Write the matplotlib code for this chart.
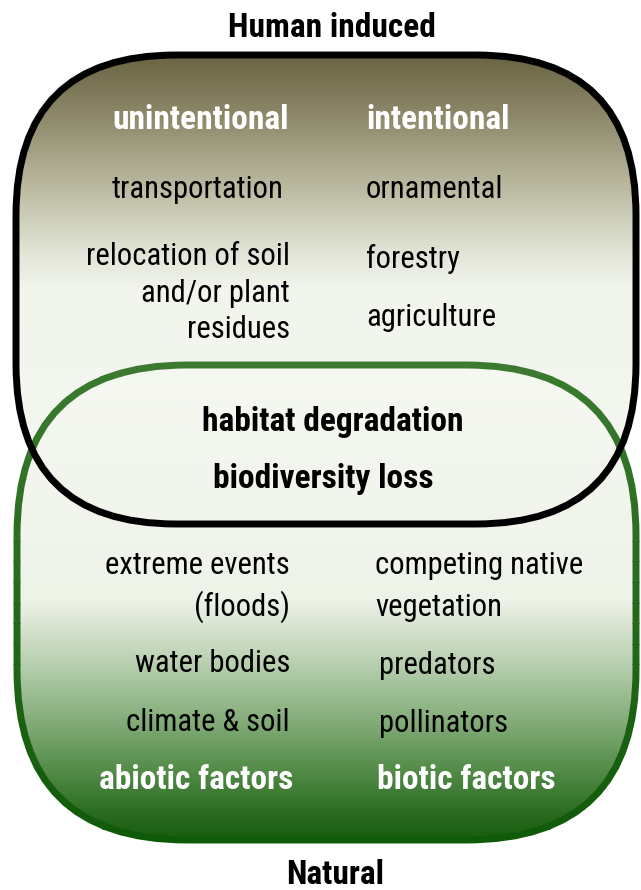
import numpy as np
import matplotlib.pyplot as plt
from matplotlib.patches import FancyBboxPatch, Rectangle
from matplotlib.colors import to_rgb
from matplotlib import font_manager

# --- diagram text ---
top_title = "Human induced"
bottom_title = "Natural"
human_left = ["unintentional", "transportation", "relocation of soil", "and/or plant", "residues"]
human_right = ["intentional", "ornamental", "forestry", "agriculture"]
overlap = ["habitat degradation", "biodiversity loss"]
natural_left = ["extreme events", "(floods)", "water bodies", "climate & soil", "abiotic factors"]
natural_right = ["competing native", "vegetation", "predators", "pollinators", "biotic factors"]

# bold white headers
white_bold = {"unintentional", "intentional", "abiotic factors", "biotic factors"}

# pick a narrow sans with both regular and bold faces
weights = {}
for f in font_manager.fontManager.ttflist:
    w = f.weight if isinstance(f.weight, int) else font_manager.weight_dict.get(f.weight, 400)
    weights.setdefault(f.name, set()).add(w)
FONT = "Liberation Sans"
for cand in ["Liberation Sans Narrow", "Arial Narrow", "Arimo Narrow", "Roboto Condensed",
             "Pragati Narrow", "PT Sans Narrow", "Archivo Narrow", "Open Sans Condensed"]:
    ws = weights.get(cand, set())
    if any(w >= 700 for w in ws) and any(w <= 400 for w in ws):
        FONT = cand
        break
plt.rcParams['font.family'] = [FONT, 'DejaVu Sans']

W, H = 641, 890
fig = plt.figure(figsize=(W / 100, H / 100), dpi=100)
ax = fig.add_axes([0, 0, 1, 1])
ax.set_xlim(0, W)
ax.set_ylim(H, 0)
ax.axis('off')

# fit font size to the reference text widths
renderer = fig.canvas.get_renderer()
def measured(s, weight):
    t = ax.text(0, 0, s, fontsize=24, fontweight=weight)
    w = t.get_window_extent(renderer).width
    t.remove()
    return w
FS = float(np.clip(24 * 172 / measured("transportation", 'normal'), 17, 26))
FSB = float(np.clip(24 * 262 / measured("habitat degradation", 'bold'), 17, 26))


def vgradient(stops, y0, y1, n=500):
    ys = np.linspace(y0, y1, n)
    pos = [s[0] for s in stops]
    cols = np.array([to_rgb(s[1]) for s in stops])
    img = np.stack([np.interp(ys, pos, cols[:, i]) for i in range(3)], axis=-1)
    return img[:, None, :]


def box(x0, y0, x1, y1, r):
    return FancyBboxPatch((x0, y0), x1 - x0, y1 - y0,
                          boxstyle=f"round,pad=0,rounding_size={r}")


# box geometry (pixels): left, top, right, bottom, corner radius
hb = (16, 55, 636, 524, 160)
nb = (17, 365, 636, 840, 170)

# fills
hpatch = box(*hb)
hpatch.set_facecolor('none'); hpatch.set_edgecolor('none')
ax.add_patch(hpatch)
hstops = [(55, '#6a6443'), (120, '#8f8b6c'), (190, '#bdbca3'), (250, '#e0e3d4'),
          (290, '#f2f5ec'), (524, '#f5f8f2')]
im = ax.imshow(vgradient(hstops, hb[1], hb[3]), extent=[hb[0], hb[2], hb[3], hb[1]],
               aspect='auto', origin='upper', zorder=1)
im.set_clip_path(hpatch)

npatch = box(*nb)
npatch.set_facecolor('none'); npatch.set_edgecolor('none')
ax.add_patch(npatch)
nstops = [(365, '#f6f8f2'), (600, '#eef3e8'), (640, '#cddcc5'), (680, '#a9c6a0'),
          (725, '#80aa75'), (780, '#4a8540'), (815, '#2a6a20'), (840, '#175c0e')]
im2 = ax.imshow(vgradient(nstops, nb[1], nb[3]), extent=[nb[0], nb[2], nb[3], nb[1]],
                aspect='auto', origin='upper', zorder=2)
im2.set_clip_path(npatch)

# green outline with a slight vertical gradient, drawn in bands
c_top, c_bot = np.array(to_rgb('#3b7a2f')), np.array(to_rgb('#0f5a08'))
edges = np.linspace(nb[1] - 10, nb[3] + 10, 25)
for i in range(len(edges) - 1):
    t = i / (len(edges) - 2)
    p = box(*nb)
    p.set_facecolor('none')
    p.set_edgecolor(c_top * (1 - t) + c_bot * t)
    p.set_linewidth(5)
    p.set_zorder(3)
    ax.add_patch(p)
    p.set_clip_path(Rectangle((0, edges[i]), W, edges[i + 1] - edges[i] + 1,
                              transform=ax.transData))

# black outline on top
bpatch = box(*hb)
bpatch.set_facecolor('none'); bpatch.set_edgecolor('black'); bpatch.set_linewidth(5)
bpatch.set_zorder(4)
ax.add_patch(bpatch)


def label(s, x, y, ha):
    bold = s in white_bold
    ax.text(x, y, s, ha=ha, va='baseline', fontsize=FSB if bold else FS,
            fontweight='bold' if bold else 'normal',
            color='white' if bold else 'black', zorder=5)


for s, x, y in zip(human_left, [289, 284, 290, 290, 290], [129, 198, 265, 302, 338]):
    label(s, x, y, 'right')
for s, x, y in zip(human_right, [366, 366, 366, 366], [129, 198, 268, 326]):
    label(s, x, y, 'left')
for s, x, y in zip(natural_left, [290, 290, 290, 290, 293], [574, 616, 672, 731, 789]):
    label(s, x, y, 'right')
for s, x, y in zip(natural_right, [375, 375, 379, 379, 377], [574, 616, 674, 732, 789]):
    label(s, x, y, 'left')
for s, x, y in zip(overlap, [333, 323], [431, 488]):
    ax.text(x, y, s, ha='center', va='baseline', fontsize=FSB, fontweight='bold', zorder=5)

ax.text(332, 37, top_title, ha='center', va='baseline', fontsize=FSB, fontweight='bold')
ax.text(335, 884, bottom_title, ha='center', va='baseline', fontsize=FSB, fontweight='bold')

fig.savefig("out.png", dpi=100)
